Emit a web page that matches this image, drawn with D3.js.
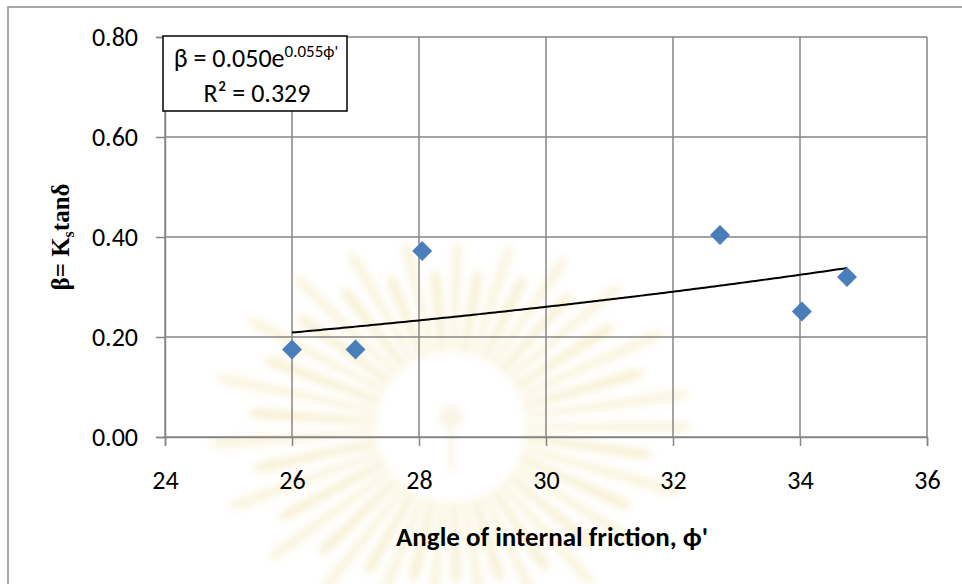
<!DOCTYPE html>
<meta charset="utf-8">
<title>beta vs angle of internal friction</title>
<script src="https://d3js.org/d3.v7.min.js"></script>
<body style="margin:0; background:#fff;">
<div id="chart"></div>
</body>
<script>
// values
const phi = [26.0, 27.0, 28.05, 32.74, 34.03, 34.74]
const beta = [0.175, 0.175, 0.372, 0.404, 0.251, 0.320]
const xTicks = [24, 26, 28, 30, 32, 34, 36]
const yTicks = [0, 0.2, 0.4, 0.6, 0.8]
const trendA = 0.050, trendB = 0.055, trendR2 = 0.329

width = 962
height = 584
plot = {left: 165, right: 927, top: 37, bottom: 437}
tickFont = "Carlito, 'Open Sans', sans-serif"
gridColor = "#868686"

x = d3.scaleLinear().domain([24, 36]).range([plot.left, plot.right])
y = d3.scaleLinear().domain([0, 0.8]).range([plot.bottom, plot.top])

svg = d3.select("#chart").append("svg")
    .attr("width", width)
    .attr("height", height)
    .style("display", "block")

// faint seal watermark behind the chart
defs = svg.append("defs")
defs.append("filter").attr("id", "blur")
    .attr("x", "-50%").attr("y", "-50%").attr("width", "200%").attr("height", "200%")
  .append("feGaussianBlur").attr("stdDeviation", 3.5)

seal = svg.append("g")
    .attr("transform", "translate(451,427)")
    .attr("filter", "url(#blur)")
    .attr("opacity", 0.35)
rayAngles = d3.range(0, 360, 8)
seal.selectAll("path")
  .data(rayAngles)
  .join("path")
    .attr("fill", (d, i) => i % 2 ? "#eedb94" : "#f3e4ac")
    .attr("d", (d, i) => {
      const a = d * Math.PI / 180
      const r0 = 75, r1 = (i % 2 ? 0.85 : 1) * Math.hypot(250 * Math.cos(a), 195 * Math.sin(a))
      const w = 6
      const c = Math.cos(a), s = Math.sin(a)
      const p = (r, o) => [r * c - o * s, r * s + o * c]
      return "M" + p(r0, -w * 0.6) + "L" + p(r1 - 20, -w) + "Q" + p(r1 + 5, 0) + " " + p(r1 - 20, w) + "L" + p(r0, w * 0.6) + "Z"
    })
seal.append("circle").attr("cx", 0).attr("cy", -10).attr("r", 12).attr("fill", "#efe2bd")
seal.append("rect").attr("x", -3).attr("y", 0).attr("width", 6).attr("height", 45).attr("fill", "#efe2bd")

// outer chart frame
svg.append("rect")
    .attr("x", 8).attr("y", 7)
    .attr("width", 1000).attr("height", 700)
    .attr("fill", "none")
    .attr("stroke", "#8c8c8c")
    .attr("stroke-width", 1.5)

// gridlines
grid = svg.append("g").attr("stroke", gridColor).attr("stroke-width", 1.5)
grid.selectAll(".gx").data(xTicks).join("line")
    .attr("x1", d => x(d)).attr("x2", d => x(d))
    .attr("y1", plot.top).attr("y2", plot.bottom)
grid.selectAll(".gy").data(yTicks).join("line")
    .attr("x1", plot.left).attr("x2", plot.right)
    .attr("y1", d => y(d)).attr("y2", d => y(d))

// axes
xAxis = svg.append("g")
    .attr("transform", `translate(0,${plot.bottom})`)
    .call(d3.axisBottom(x).tickValues(xTicks).tickSize(9).tickPadding(25).tickFormat(d3.format("d")))
yAxis = svg.append("g")
    .attr("transform", `translate(${plot.left},0)`)
    .call(d3.axisLeft(y).tickValues(yTicks).tickSize(9).tickPadding(18).tickFormat(d3.format(".2f")))
for (const ax of [xAxis, yAxis]) {
  ax.select(".domain").attr("stroke", gridColor).attr("stroke-width", 1.5)
  ax.selectAll(".tick line").attr("stroke", gridColor).attr("stroke-width", 1.5)
  ax.selectAll(".tick text")
      .attr("fill", "#000")
      .style("font-family", tickFont)
      .style("font-size", "26px")
}
xAxis.selectAll(".tick text").attr("dy", "0.71em")

// exponential trendline
line = d3.line().x(d => x(d)).y(d => y(trendA * Math.exp(trendB * d)))
svg.append("path")
    .datum(d3.range(d3.min(phi), d3.max(phi), 0.05).concat([d3.max(phi)]))
    .attr("fill", "none")
    .attr("stroke", "#000")
    .attr("stroke-width", 2)
    .attr("d", line)

// data points
svg.append("g")
  .selectAll("path")
  .data(phi.map((p, i) => [p, beta[i]]))
  .join("path")
    .attr("transform", d => `translate(${x(d[0])},${y(d[1])}) rotate(45)`)
    .attr("d", d3.symbol(d3.symbolSquare, 200))
    .attr("fill", "#4a7ebb")

// equation box
box = svg.append("g")
box.append("rect")
    .attr("x", 163).attr("y", 36)
    .attr("width", 184).attr("height", 75)
    .attr("fill", "#fff")
    .attr("stroke", "#000")
    .attr("stroke-width", 1.5)
eq = box.append("text")
    .attr("x", 256).attr("y", 67)
    .attr("text-anchor", "middle")
    .style("font-family", tickFont)
    .style("font-size", "26px")
eq.append("tspan").text("β = " + trendA.toFixed(3) + "e")
eq.append("tspan").attr("dy", -10).style("font-size", "17px").text(trendB.toFixed(3) + "ϕ'")
box.append("text")
    .attr("x", 257).attr("y", 102)
    .attr("text-anchor", "middle")
    .style("font-family", tickFont)
    .style("font-size", "26px")
    .text("R² = " + trendR2.toFixed(3))

// axis titles
svg.append("text")
    .attr("x", 552).attr("y", 546)
    .attr("text-anchor", "middle")
    .style("font-family", tickFont)
    .style("font-weight", "bold")
    .style("font-size", "27px")
    .text("Angle of internal friction, ϕ'")

yt = svg.append("text")
    .attr("transform", `translate(69,${(plot.top + plot.bottom) / 2}) rotate(-90)`)
    .attr("text-anchor", "middle")
    .style("font-family", "'Liberation Serif', 'Times New Roman', serif")
    .style("font-weight", "bold")
    .style("font-size", "25px")
yt.append("tspan").text("β= K")
yt.append("tspan").attr("dy", 5).style("font-size", "16px").text("s")
yt.append("tspan").attr("dy", -5).text("tanδ")
</script>
